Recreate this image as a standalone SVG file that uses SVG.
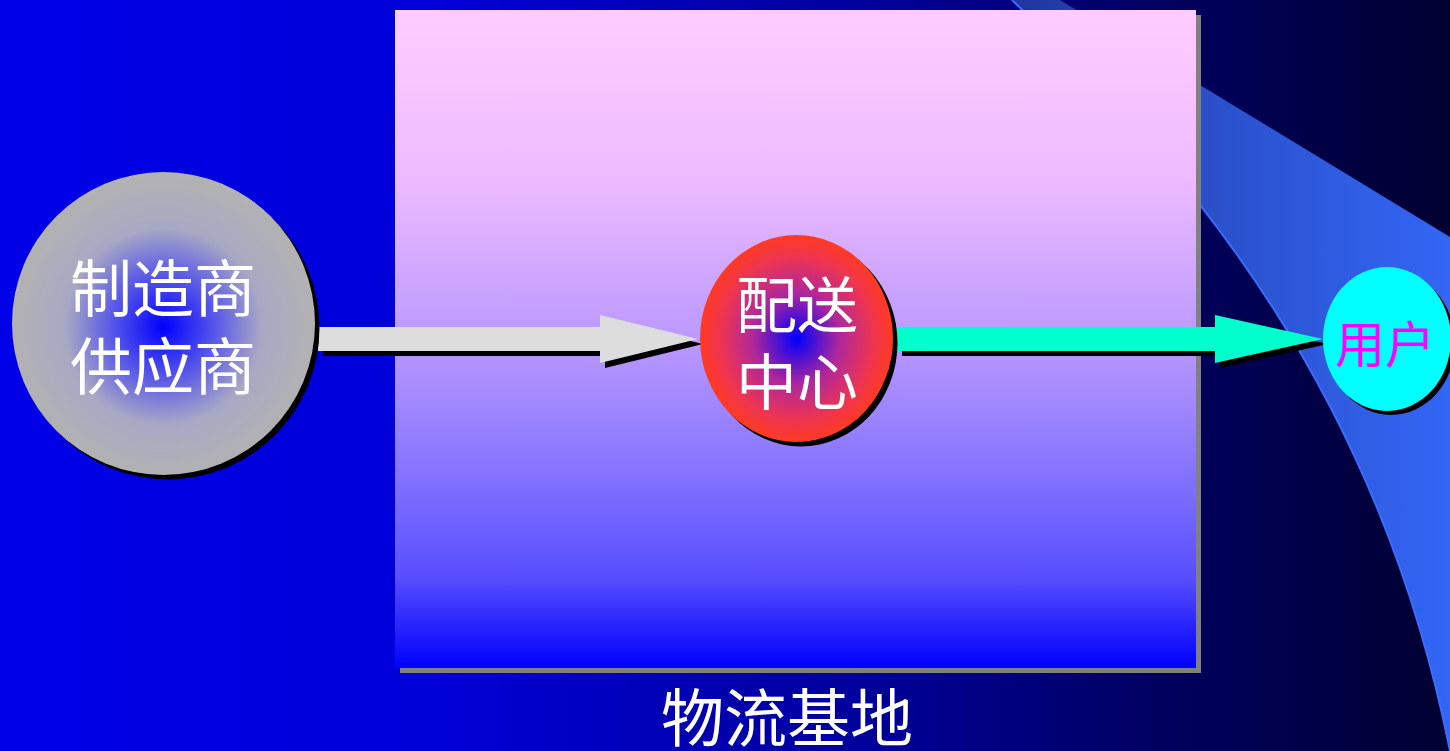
<svg xmlns="http://www.w3.org/2000/svg" width="1450" height="751" viewBox="0 0 1450 751">
<defs>
<linearGradient id="bg" x1="0" y1="0" x2="1" y2="0">
<stop offset="0" stop-color="#0000e8"/>
<stop offset="0.3" stop-color="#0000d8"/>
<stop offset="0.6" stop-color="#00009a"/>
<stop offset="0.8" stop-color="#000060"/>
<stop offset="1" stop-color="#000030"/>
</linearGradient>
<linearGradient id="band" gradientUnits="userSpaceOnUse" x1="1000" y1="0" x2="1450" y2="0">
<stop offset="0" stop-color="#1f3399"/>
<stop offset="0.45" stop-color="#2a4fc8"/>
<stop offset="1" stop-color="#3366f5"/>
</linearGradient>
<linearGradient id="boxg" x1="0" y1="0" x2="0" y2="1">
<stop offset="0" stop-color="#ffccff"/>
<stop offset="0.25" stop-color="#eebbff"/>
<stop offset="0.5" stop-color="#bb99ff"/>
<stop offset="0.72" stop-color="#8070ff"/>
<stop offset="0.86" stop-color="#5a4fff"/>
<stop offset="1" stop-color="#0000ff"/>
</linearGradient>
<radialGradient id="gGray" cx="0.5" cy="0.51" r="0.5">
<stop offset="0" stop-color="#0000ff"/>
<stop offset="0.35" stop-color="#5a5ae8"/>
<stop offset="0.65" stop-color="#a8a8c4"/>
<stop offset="1" stop-color="#b2b2b2"/>
</radialGradient>
<radialGradient id="gRed" cx="0.5" cy="0.5" r="0.5">
<stop offset="0" stop-color="#0000ff"/>
<stop offset="0.45" stop-color="#b0289a"/>
<stop offset="0.8" stop-color="#f03550"/>
<stop offset="1" stop-color="#ff3a22"/>
</radialGradient>
</defs>
<style>
.cjk{font-family:"Noto Sans CJK SC","Noto Sans CJK JP",sans-serif;text-anchor:middle}
.w{fill:#ffffff}
.shadow{fill:#000000}
</style>
<rect x="0" y="0" width="1450" height="751" fill="url(#bg)"/>
<path d="M1060,0 L1450,237 L1450,751 C1380,400 1200,180 1012,0 Z" fill="url(#band)"/>
<path d="M1012,0 C1200,180 1380,400 1450,751" fill="none" stroke="#3a6cff" stroke-width="2"/>
<g id="base">
<rect x="400" y="15" width="801" height="658" fill="#808080"/>
<rect x="395" y="10" width="801" height="658" fill="url(#boxg)"/>
<text class="cjk w" x="787" y="741" font-size="63">物流基地</text>
</g>
<g id="connectors">
<polygon points="323,332 605,332 605,320 703,344 605,368 605,356 323,356" class="shadow"/>
<polygon points="318,327 600,327 600,315 698,339 600,363 600,351 318,351" fill="#dddddd"/>
<polygon points="902,332 1220,332 1220,320 1328,344 1220,368 1220,356 902,356" class="shadow"/>
<polygon points="897,327 1215,327 1215,315 1323,339 1215,363 1215,351 897,351" fill="#00ffcc"/>
</g>
<g id="supplier">
<circle cx="168" cy="328" r="151.5" class="shadow"/>
<circle cx="163.5" cy="323.5" r="151.5" fill="url(#gGray)"/>
<text class="cjk w" x="163" y="312" font-size="62">制造商</text>
<text class="cjk w" x="163" y="390" font-size="62">供应商</text>
</g>
<g id="center">
<ellipse cx="801" cy="343" rx="96.5" ry="103.5" class="shadow"/>
<ellipse cx="796.5" cy="338.5" rx="96.5" ry="103.5" fill="url(#gRed)"/>
<text class="cjk w" x="797" y="328" font-size="61">配送</text>
<text class="cjk w" x="797" y="405" font-size="61">中心</text>
</g>
<g id="user">
<ellipse cx="1391" cy="343" rx="64" ry="72" class="shadow"/>
<ellipse cx="1387" cy="339" rx="64" ry="72" fill="#00ffff"/>
<text class="cjk" x="1385" y="363" font-size="50" fill="#ff00ff">用户</text>
</g>
</svg>
